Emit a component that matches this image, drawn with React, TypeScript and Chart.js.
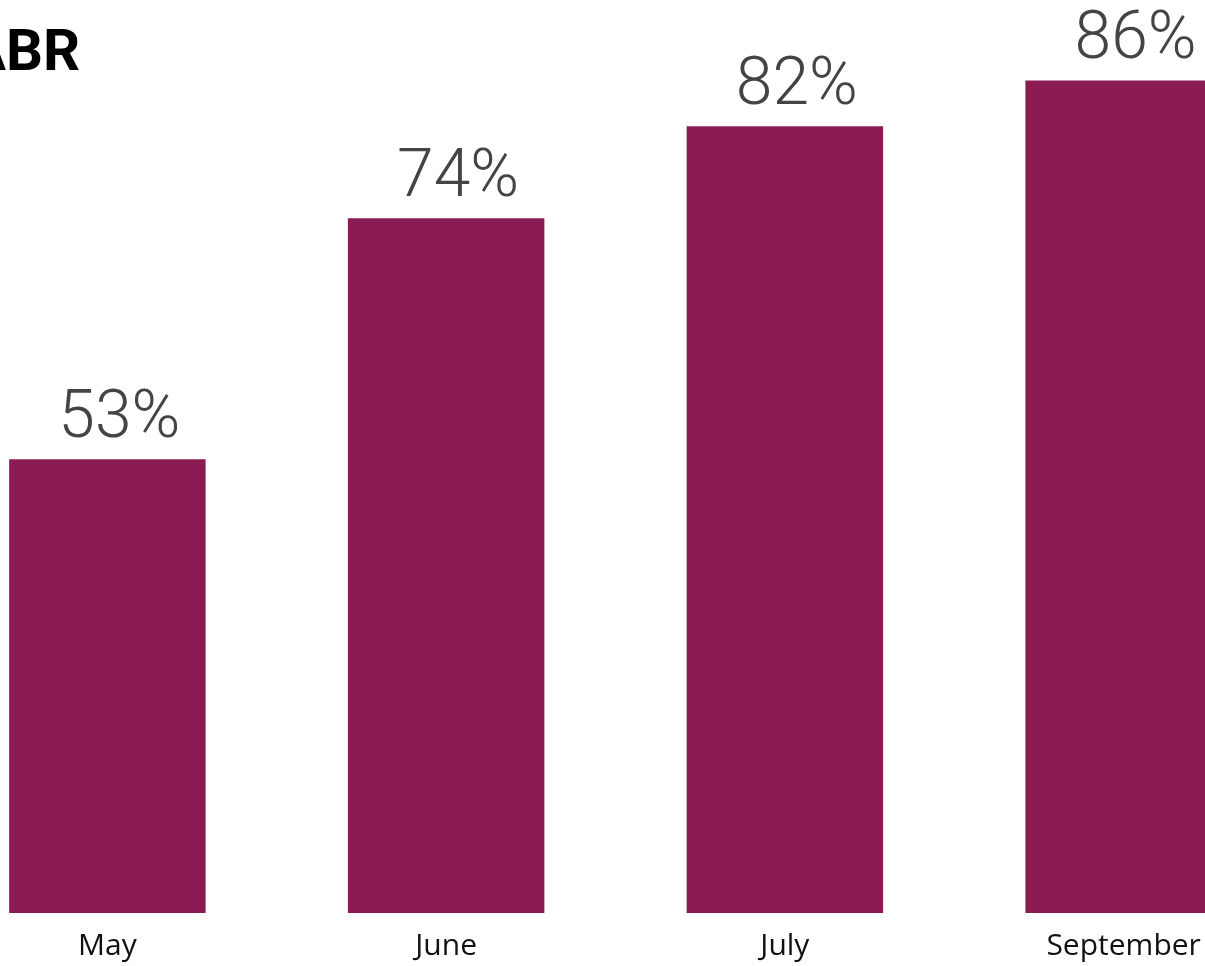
import React, { useEffect, useRef } from "react";
import { Chart, registerables } from "chart.js";

Chart.register(...registerables);

const TITLE = "ABR";
const MONTHS = ["May", "June", "July", "September"];
const ABR_VALUES = [53, 74, 82, 86];
const BAR_COLOR = "#8A1B53";

const valueLabels = {
  id: "valueLabels",
  afterDatasetsDraw(chart: any) {
    const ctx = chart.ctx;
    const meta = chart.getDatasetMeta(0);
    ctx.save();
    ctx.font = "300 66px Roboto, 'DejaVu Sans', sans-serif";
    ctx.fillStyle = "#444444";
    ctx.textAlign = "center";
    ctx.textBaseline = "alphabetic";
    meta.data.forEach((bar: any, i: number) => {
      ctx.fillText(`${ABR_VALUES[i]}%`, bar.x + 12, bar.y - 22);
    });
    ctx.restore();
  },
};

const titlePlugin = {
  id: "sideTitle",
  afterDraw(chart: any) {
    const ctx = chart.ctx;
    ctx.save();
    ctx.font = "bold 58px Roboto, 'Liberation Sans', sans-serif";
    ctx.fillStyle = "#000000";
    ctx.textAlign = "left";
    ctx.textBaseline = "alphabetic";
    ctx.fillText(TITLE, chart.chartArea.left + 29, 70);
    ctx.restore();
  },
};

export default function App() {
  const ref = useRef<HTMLCanvasElement>(null);

  useEffect(() => {
    if (!ref.current) return;
    const chart = new Chart(ref.current, {
      type: "bar",
      data: {
        labels: MONTHS,
        datasets: [
          {
            label: TITLE,
            data: ABR_VALUES,
            backgroundColor: BAR_COLOR,
            borderWidth: 0,
            categoryPercentage: 1,
            barPercentage: 0.58,
          },
        ],
      },
      options: {
        responsive: false,
        animation: false,
        devicePixelRatio: 1,
        layout: { padding: 0 },
        plugins: {
          legend: { display: false },
          title: { display: false },
          tooltip: { enabled: false },
        },
        scales: {
          x: {
            grid: { display: false, drawTicks: false },
            border: { display: false },
            ticks: {
              color: "#111111",
              padding: 15,
              font: { family: "'Open Sans', sans-serif", size: 30 },
              maxRotation: 0,
              autoSkip: false,
            },
          },
          y: {
            display: false,
            min: 13.5,
            max: 93,
          },
        },
      },
      plugins: [valueLabels, titlePlugin],
    });
    return () => chart.destroy();
  }, []);

  return (
    <div
      style={{
        position: "fixed",
        left: 0,
        top: 0,
        width: 1205,
        height: 966,
        overflow: "hidden",
        background: "#ffffff",
      }}
    >
      <canvas
        ref={ref}
        width={1355}
        height={979}
        style={{ position: "absolute", left: -62, top: 0, width: 1355, height: 979 }}
      />
    </div>
  );
}
